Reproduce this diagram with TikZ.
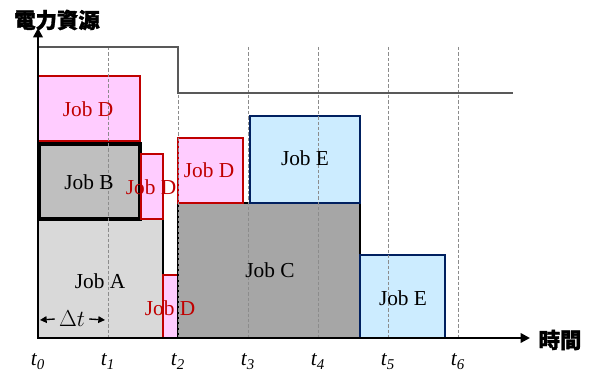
\documentclass[tikz,border=0pt]{standalone}
\usepackage{fontspec}
\setmainfont{Liberation Serif}
\newfontfamily\cjk[FakeBold=1.5]{Noto Sans CJK TC}
\usetikzlibrary{arrows.meta,fit}
\definecolor{pinkfill}{HTML}{FFCCFF}
\definecolor{darkred}{HTML}{C00000}
\definecolor{jobA}{HTML}{D9D9D9}
\definecolor{jobB}{HTML}{BFBFBF}
\definecolor{jobC}{HTML}{A6A6A6}
\definecolor{bluefill}{HTML}{CCECFF}
\definecolor{navy}{HTML}{002060}
\definecolor{powergray}{HTML}{595959}
\definecolor{dashgray}{HTML}{8C8C8C}
\tikzset{
  jobfont/.style={font=\fontsize{16}{18}\selectfont},
  box/.style={inner sep=0pt, outer sep=0pt, line width=1.6pt},
  jobAbox/.style={box, draw=black, fill=jobA},
  jobBbox/.style={box, draw=black, fill=jobB, line width=2.4pt},
  jobCbox/.style={box, draw=black, fill=jobC},
  jobDbox/.style={box, draw=darkred, fill=pinkfill},
  jobEbox/.style={box, draw=navy, fill=bluefill},
  lbl/.style={jobfont, inner sep=0pt},
  lblD/.style={lbl, text=darkred},
  gridline/.style={dashgray, line width=0.6pt, dash pattern=on 2.5pt off 1.5pt},
  axis/.style={line width=2.2pt, -{Triangle[length=7pt,width=7pt]}},
  tlabel/.style={font=\fontsize{16}{18}\selectfont\itshape, anchor=base, inner sep=0pt},
}
\begin{document}
\begin{tikzpicture}[x=0.75pt,y=-0.75pt]
\useasboundingbox (0,0) rectangle (594,374);
% boxes
\node[jobAbox, fit={(38,219) (163,338)}] (A) {};
\node[jobDbox, fit={(38,76) (140,141)}] (D1) {};
\node[jobBbox, fit={(39,144) (140,219)}] (B) {};
\node[jobDbox, fit={(141,154) (163,219)}] (D2) {};
\node[jobDbox, fit={(163,275) (178,338)}] (D3) {};
\node[jobCbox, fit={(178,203) (360,338)}] (C) {};
\node[jobDbox, fit={(178,138) (243,203)}] (D4) {};
\node[jobEbox, fit={(250,116) (360,203)}] (E1) {};
\node[jobEbox, fit={(360,255) (445,338)}] (E2) {};
% grid lines
\foreach \i/\x in {1/108,2/178,3/248,4/318,5/388,6/458} {
  \coordinate (g\i t) at (\x,47);
  \coordinate (g\i b) at (\x,338);
  \draw[gridline] (g\i t) -- (g\i b);
}
% power line
\coordinate (p0) at (38,47);
\coordinate (p1) at (178,47);
\coordinate (p2) at (178,93);
\coordinate (p3) at (513,93);
\draw[powergray, line width=1.8pt] (p0) -- (p1) -- (p2) -- (p3);
% labels
\node[lblD] (lD1) at (88,109) {Job D};
\node[lbl] (lB) at (89,182) {Job B};
\node[lblD] (lD2) at (151,187) {Job D};
\node[lbl] (lA) at (100,281) {Job A};
\node[lblD] (lD3) at (170,308) {Job D};
\node[lblD] (lD4) at (209,170) {Job D};
\node[lbl] (lC) at (270,270) {Job C};
\node[lbl] (lE1) at (305,158) {Job E};
\node[lbl] (lE2) at (403,298) {Job E};
% delta t
\node[lbl] (dt) at (72,319) {$\Delta t$};
\coordinate (dtl) at (40,320);
\coordinate (dtr) at (105,320);
\draw[line width=1pt, -{Triangle[length=5pt,width=5pt]}] (dt.west) ++(-3pt,0) -- (dtl);
\draw[line width=1pt, -{Triangle[length=5pt,width=5pt]}] (dt.east) ++(3pt,0) -- (dtr);
% axes
\coordinate (O) at (38,338);
\coordinate (Y) at (38,28);
\coordinate (X) at (530,338);
\draw[axis] (O) -- (Y);
\draw[axis] (O) -- (X);
\node[font=\cjk\bfseries\fontsize{16}{18}\selectfont, inner sep=0pt] (ytitle) at (57,20) {電力資源};
\node[font=\cjk\bfseries\fontsize{16}{18}\selectfont, inner sep=0pt] (xtitle) at (560,340) {時間};
% time labels
\foreach \i/\x in {0/38,1/108,2/178,3/248,4/318,5/388,6/458} {
  \node[tlabel] (t\i) at (\x,366) {t\textsubscript{\i}};
}
\end{tikzpicture}
\end{document}
